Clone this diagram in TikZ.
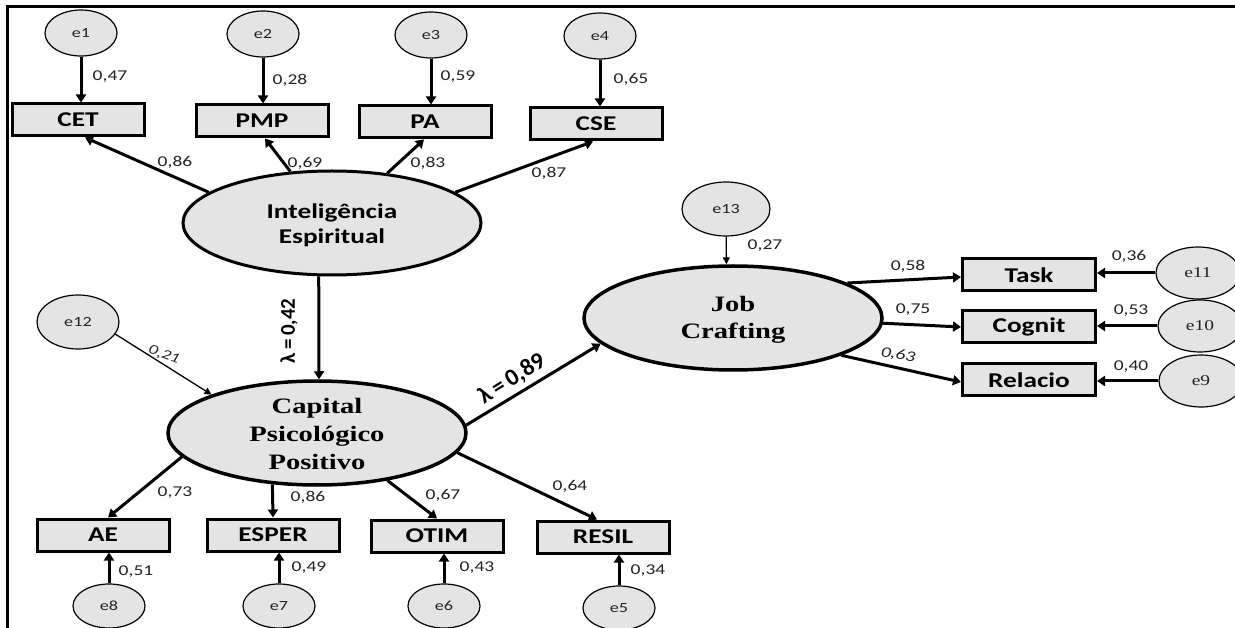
\documentclass[tikz,border=0pt]{standalone}
\usepackage{fontspec}
\usetikzlibrary{shapes.geometric,arrows.meta}
\newfontfamily\calf[FakeStretch=1.3]{Carlito}
\newfontfamily\tmsf[FakeStretch=1.3]{Liberation Serif}
\newfontfamily\lamf{Carlito}
\definecolor{fillg}{HTML}{E4E4E4}
\definecolor{txtg}{HTML}{222222}
\tikzset{
 obs/.style={draw, line width=3pt, fill=fillg, minimum width=132pt, minimum height=32pt, inner sep=0pt, font=\calf\bfseries\fontsize{21}{24}\selectfont},
 err/.style={ellipse, draw, line width=1.2pt, fill=fillg, minimum width=72pt, minimum height=46pt, inner sep=0pt, text=txtg, font=\calf\fontsize{14}{16}\selectfont},
 errs/.style={err, font=\tmsf\fontsize{15}{17}\selectfont, minimum width=84pt, minimum height=52pt},
 lat/.style={ellipse, draw, line width=3.5pt, fill=fillg, minimum width=298pt, minimum height=104pt, inner sep=0pt},
 arr/.style={line width=3pt, -{Triangle[length=8pt,width=10pt]}},
 thinarr/.style={line width=1.3pt, -{Triangle[length=7pt,width=7pt]}},
 lab/.style={font=\calf\fontsize{15}{17}\selectfont, inner sep=0pt, text=txtg},
 latxt/.style={align=center, inner sep=0pt},
}
\begin{document}
\begin{tikzpicture}[x=1pt,y=-1pt]
\useasboundingbox (0,0) rectangle (1235,628);
\clip (0,0) rectangle (1235,628);
% frame lines
\coordinate (tl) at (7,7);
\coordinate (tr) at (1235,7);
\coordinate (bl) at (7,628);
\draw[line width=3pt] (tr) -- (tl) -- (bl);

% top error terms and indicators
\node[err] (e1) at (81,33) {e1};
\node[err] (e2) at (263,34) {e2};
\node[err] (e3) at (431,35) {e3};
\node[err] (e4) at (600,36) {e4};
\node[obs] (cet) at (78,120) {CET};
\node[obs] (pmp) at (262,121) {PMP};
\node[obs] (pa) at (425,122) {PA};
\node[obs] (cse) at (596,124) {CSE};

% latent variables
\node[lat, line width=3pt] (ie) at (332,223) {};
\node[latxt, font=\calf\bfseries\fontsize{21}{25}\selectfont] (ietxt) at (332,225) {Inteligência\\Espiritual};
\node[lat] (cpp) at (317,433) {};
\node[latxt, font=\tmsf\bfseries\fontsize{22}{28}\selectfont] (cpptxt) at (317,434) {Capital\\Psicológico\\Positivo};
\node[lat] (jc) at (733,318) {};
\node[latxt, font=\tmsf\bfseries\fontsize{22}{27}\selectfont] (jctxt) at (733,320) {Job\\Crafting};

% disturbance terms
\node[err, minimum width=82pt, minimum height=54pt] (e12) at (78,322) {e12};
\node[err, minimum width=88pt, minimum height=54pt] (e13) at (726,209) {e13};

% right indicators
\node[obs, minimum width=133pt] (task) at (1029,275) {Task};
\node[obs, minimum width=133pt] (cognit) at (1029,327) {Cognit};
\node[obs, minimum width=133pt] (relacio) at (1029,380) {Relacio};
\node[errs] (e11) at (1198,273) {e11};
\node[errs] (e10) at (1200,326) {e10};
\node[errs] (e9) at (1201,381) {e9};

% bottom indicators
\node[obs] (ae) at (103,535) {AE};
\node[obs] (esper) at (273,535) {ESPER};
\node[obs] (otim) at (437,536) {OTIM};
\node[obs] (resil) at (603,537) {RESIL};
\node[err, minimum height=44pt] (e8) at (109,606) {e8};
\node[err, minimum height=44pt] (e7) at (279,606) {e7};
\node[err, minimum height=44pt] (e6) at (444,606) {e6};
\node[err, minimum height=44pt] (e5) at (619,608) {e5};

% error arrows
\draw[arr] (e1) -- (e1 |- cet.north);
\draw[arr] (e2) -- (e2 |- pmp.north);
\draw[arr] (e3) -- (e3 |- pa.north);
\draw[arr] (e4) -- (e4 |- cse.north);
\draw[arr] (e8) -- (e8 |- ae.south);
\draw[arr] (e7) -- (e7 |- esper.south);
\draw[arr] (e6) -- (e6 |- otim.south);
\draw[arr] (e5) -- (e5 |- resil.south);
\draw[arr] (e11) -- (e11 -| task.east);
\draw[arr] (e10) -- (e10 -| cognit.east);
\draw[arr] (e9) -- (e9 -| relacio.east);

% loadings
\draw[arr] (ie.166) -- ([xshift=7pt]cet.south);
\draw[arr] (ie.129) -- ([xshift=3pt]pmp.south);
\draw[arr] (ie.42) -- ([xshift=-1pt]pa.south);
\draw[arr] (ie.14) -- ([xshift=-3pt]cse.south);
\draw[arr] (ie.256) -- ([xshift=2pt]cpp.north);
\draw[thinarr] (e12.-18) -- (cpp.160);
\draw[arr] (cpp.190) -- ([xshift=5pt]ae.north);
\draw[arr] (cpp.229) -- (esper.north);
\draw[arr] (cpp.326) -- (otim.north);
\draw[arr] (cpp.352) -- ([xshift=-6pt]resil.north);
\draw[arr] (cpp.3) -- (jc.191);
\draw[thinarr] (e13) -- (jc.97);
\draw[arr] (jc.17) -- ([yshift=-2pt]task.west);
\draw[arr] (jc.-2) -- (cognit.west);
\draw[arr] (jc.-19) -- ([yshift=-2pt]relacio.west);

% labels
\node[lab] (l1) at (110,77) {0,47};
\node[lab] (l2) at (290,80) {0,28};
\node[lab] (l3) at (458,77) {0,59};
\node[lab] (l4) at (631,79) {0,65};
\node[lab] (l5) at (175,162) {0,86};
\node[lab] (l6) at (305,163) {0,69};
\node[lab] (l7) at (428,163) {0,83};
\node[lab] (l8) at (549,173) {0,87};
\node[lab, font=\calf\itshape\fontsize{14}{16}\selectfont, rotate=-20] (l9) at (164,355) {0,21};
\node[lab] (l10) at (765,246) {0,27};
\node[lab] (l11) at (908,266) {0,58};
\node[lab] (l12) at (913,310) {0,75};
\node[lab, font=\calf\itshape\fontsize{15}{17}\selectfont, rotate=-10] (l13) at (898,355) {0,63};
\node[lab] (l14) at (1129,256) {0,36};
\node[lab] (l15) at (1131,311) {0,53};
\node[lab] (l16) at (1131,367) {0,40};
\node[lab] (l17) at (175,493) {0,73};
\node[lab] (l18) at (308,497) {0,86};
\node[lab] (l19) at (443,495) {0,67};
\node[lab] (l20) at (570,486) {0,64};
\node[lab] (l21) at (136,572) {0,51};
\node[lab] (l22) at (309,568) {0,49};
\node[lab] (l23) at (477,568) {0,43};
\node[lab] (l24) at (648,571) {0,34};
\node[font=\lamf\bfseries\fontsize{21}{24}\selectfont, rotate=90, inner sep=0pt] (lam1) at (289,331) {λ\,=\,0,42};
\node[font=\lamf\bfseries\fontsize{24}{26}\selectfont, rotate=32, inner sep=0pt] (lam2) at (512,379) {λ\,=\,0,89};
\end{tikzpicture}
\end{document}
